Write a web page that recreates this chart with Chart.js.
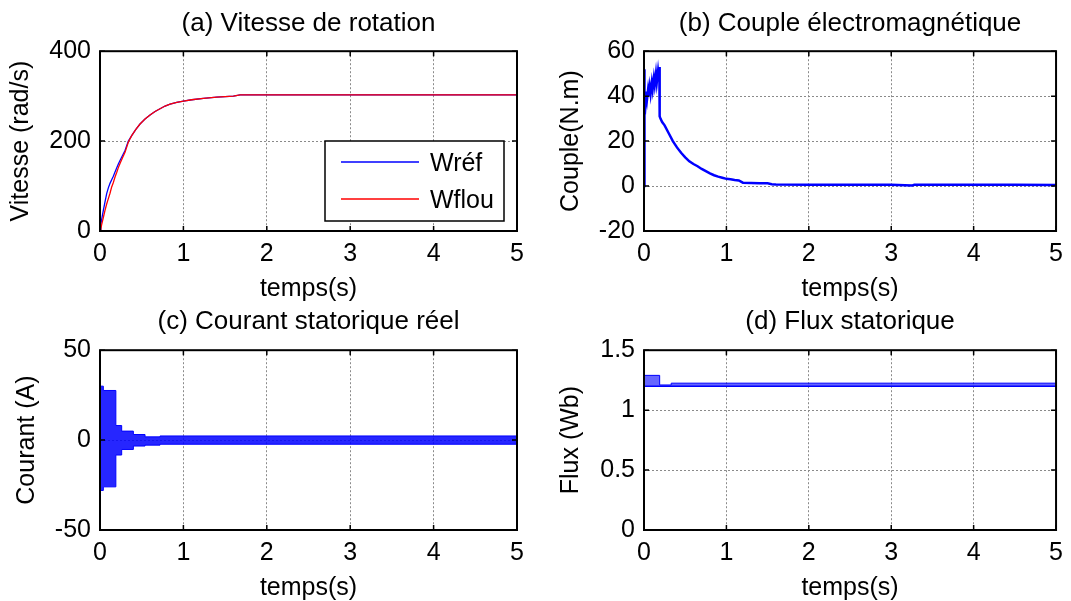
<!DOCTYPE html>
<html lang="fr">
<head>
<meta charset="utf-8">
<title>Commande floue — résultats de simulation</title>
<script src="https://cdn.jsdelivr.net/npm/chart.js@4.4.1/dist/chart.umd.min.js"></script>
<style>
  html, body { margin: 0; background: #fff; }
  #figure { position: relative; width: 1071px; height: 601px; overflow: hidden; }
  #figure canvas { position: absolute; }
</style>
</head>
<body>
<div id="figure">
  <canvas id="g-vitesse" width="540" height="302" style="left:0;top:0"></canvas>
  <canvas id="g-couple"  width="531" height="302" style="left:540px;top:0"></canvas>
  <canvas id="g-courant" width="540" height="301" style="left:0;top:300px"></canvas>
  <canvas id="g-flux"    width="531" height="301" style="left:540px;top:300px"></canvas>
</div>
<script>
// --- (a) vitesse de rotation (rad/s)
const tVitesse = [0, 0.01, 0.02, 0.04, 0.06, 0.08, 0.1, 0.12, 0.14, 0.16,
                  0.18, 0.2, 0.22, 0.24, 0.27, 0.3, 0.34, 0.38, 0.43, 0.48,
                  0.54, 0.6, 0.66, 0.72, 0.78, 0.84, 0.92, 1.0, 1.1, 1.24,
                  1.4, 1.6, 1.68, 5];
const wRef  = [0, 14, 26, 46, 65, 83, 96, 106, 114, 122,
               131, 140, 149, 157, 168, 179, 200, 212, 226, 238,
               249, 258, 266, 272, 278, 282, 286, 289, 292, 295,
               298, 300, 303, 303];
const wFlou = [0, 5, 14, 30, 46, 60, 72, 84, 98, 108,
               120, 130, 141, 150, 163, 175, 198, 212, 226, 238,
               249, 258, 266, 272, 278, 282, 286, 289, 292, 295,
               298, 300, 303, 303];

// --- (b) couple électromagnétique (N.m)
const tCouple = [0, 0.002, 0.004, 0.012, 0.02, 0.03, 0.038, 0.05, 0.06, 0.07,
                 0.08, 0.095, 0.105, 0.12, 0.13, 0.145, 0.155, 0.17, 0.178, 0.186,
                 0.19, 0.2, 0.22, 0.25, 0.3, 0.35, 0.4, 0.45, 0.5, 0.55,
                 0.6, 0.65, 0.7, 0.75, 0.8, 0.85, 0.9, 0.95, 1.0, 1.05,
                 1.1, 1.15, 1.2, 1.3, 1.4, 1.5, 1.55, 1.6, 2.0, 2.5,
                 3.0, 3.25, 3.28, 4.0, 4.5, 5];
const couple = [0, 52, 38, 41, 37, 42, 39, 43, 40, 44,
                41, 46, 43, 48, 45, 50, 46, 51, 48, 53,
                31, 30, 28.5, 27, 23.5, 20, 17.2, 14.8, 12.8, 11,
                9.8, 8.8, 7.6, 6.6, 5.6, 4.8, 4.2, 3.7, 3.2, 3.0,
                2.7, 2.5, 1.5, 1.4, 1.3, 1.2, 0.8, 0.7, 0.6, 0.6,
                0.6, 0.2, 0.6, 0.6, 0.6, 0.5];

// --- (c) courant statorique : enveloppe haute / basse (A)
const tCourant    = [0, 0.001, 0.04, 0.19, 0.26, 0.4, 0.54, 0.72, 5];
const courantHaut = [0, 30, 27.6, 8.1, 5, 3.1, 1.8, 2.3, 2.3];
const courantBas  = [0, -28, -26, -8.3, -5.2, -3.3, -2.8, -2.3, -2.3];

// --- (d) flux statorique : enveloppe (Wb)
const tFlux    = [0, 0.001, 0.19, 0.33, 5];
const fluxHaut = [0, 1.29, 1.21, 1.225, 1.225];
const fluxBas  = [0, 1.2, 1.2, 1.2, 1.2];

const ticksTemps = [0, 1, 2, 3, 4, 5];

const POLICE = "'Liberation Sans', Arial, Helvetica, sans-serif";
Chart.defaults.font.family = POLICE;
Chart.defaults.font.size = 25;
Chart.defaults.color = '#000';

const pts = (xs, ys) => xs.map((x, i) => ({ x, y: ys[i] }));

// cadre noir + petites graduations rentrantes, façon Matlab
const cadreMatlab = {
  id: 'cadreMatlab',
  afterDatasetsDraw(chart) {
    const { ctx, chartArea: a, scales: { x, y } } = chart;
    ctx.save();
    ctx.strokeStyle = '#000';
    ctx.lineWidth = 1.5;
    ctx.beginPath();
    x.ticks.forEach(t => {
      const px = x.getPixelForValue(t.value);
      ctx.moveTo(px, a.bottom); ctx.lineTo(px, a.bottom - 5);
      ctx.moveTo(px, a.top);    ctx.lineTo(px, a.top + 5);
    });
    y.ticks.forEach(t => {
      const py = y.getPixelForValue(t.value);
      ctx.moveTo(a.left, py);  ctx.lineTo(a.left + 5, py);
      ctx.moveTo(a.right, py); ctx.lineTo(a.right - 5, py);
    });
    ctx.stroke();
    ctx.lineWidth = 2;
    ctx.strokeRect(a.left, a.top, a.right - a.left, a.bottom - a.top);
    ctx.restore();
  }
};

// légende encadrée en bas à droite du graphe (a)
const legendeVitesse = {
  id: 'legendeVitesse',
  afterDraw(chart) {
    const { ctx, chartArea: a } = chart;
    const bx = a.right - 192, by = a.bottom - 90, bw = 179, bh = 80;
    ctx.save();
    ctx.fillStyle = '#fff';
    ctx.fillRect(bx, by, bw, bh);
    ctx.strokeStyle = '#000';
    ctx.lineWidth = 1.5;
    ctx.strokeRect(bx, by, bw, bh);
    ctx.font = '25px ' + POLICE;
    ctx.textBaseline = 'middle';
    ctx.textAlign = 'left';
    chart.data.datasets.forEach((ds, i) => {
      const ly = by + 21 + i * 37;
      ctx.strokeStyle = ds.borderColor;
      ctx.lineWidth = 1.3;
      ctx.beginPath();
      ctx.moveTo(bx + 16, ly);
      ctx.lineTo(bx + 94, ly);
      ctx.stroke();
      ctx.fillStyle = '#000';
      ctx.fillText(ds.label, bx + 105, ly + 2);
    });
    ctx.restore();
  }
};

function graphe(id, o) {
  const hautCanvas = document.getElementById(id).height;
  return new Chart(document.getElementById(id), {
    type: 'line',
    data: { datasets: o.datasets },
    options: {
      responsive: false,
      animation: false,
      events: [],
      layout: { padding: { left: 0, right: o.droite, top: 0, bottom: 0 } },
      elements: { point: { radius: 0 } },
      plugins: {
        legend: { display: false },
        tooltip: { enabled: false },
        title: {
          display: true,
          fullSize: false,
          text: o.titre,
          color: '#000',
          font: { size: 26, weight: 'normal' },
          padding: { top: o.padTitre[0], bottom: o.padTitre[1] },
        },
      },
      scales: {
        x: {
          type: 'linear',
          min: 0, max: 5,
          afterBuildTicks: s => { s.ticks = ticksTemps.map(v => ({ value: v })); },
          afterFit: s => { s.height = hautCanvas - o.basZone; },
          ticks: { padding: 8, font: { size: 25 }, color: '#000', callback: v => String(v) },
          grid: { color: '#8a8a8a', lineWidth: 1, drawTicks: false },
          border: { display: false, dash: [2, 2] },
          title: {
            display: true, text: 'temps(s)', color: '#000',
            font: { size: 25, lineHeight: 1 }, padding: { top: 0, bottom: 0 },
          },
        },
        y: {
          min: o.yMin, max: o.yMax,
          afterBuildTicks: s => { s.ticks = o.yTicks.map(v => ({ value: v })); },
          afterFit: s => { s.width = o.largeurY; },
          ticks: { padding: 9, font: { size: 25 }, color: '#000', callback: v => String(v) },
          grid: { color: '#8a8a8a', lineWidth: 1, drawTicks: false },
          border: { display: false, dash: [2, 2] },
          title: {
            display: true, text: o.titreY, color: '#000',
            font: { size: 25, lineHeight: 1.2 }, padding: { top: o.padTitreY, bottom: 0 },
          },
        },
      },
    },
    plugins: [cadreMatlab].concat(o.plugins || []),
  });
}

graphe('g-vitesse', {
  titre: '(a) Vitesse de rotation',
  padTitre: [8, 12],
  titreY: 'Vitesse (rad/s)', padTitreY: 6,
  largeurY: 100, droite: 23, basZone: 231,
  yMin: 0, yMax: 400, yTicks: [0, 200, 400],
  datasets: [
    { label: 'Wréf',  data: pts(tVitesse, wRef),  borderColor: '#0000ff', borderWidth: 1.3, order: 1 },
    { label: 'Wflou', data: pts(tVitesse, wFlou), borderColor: '#ff0000', borderWidth: 1.3, order: 0 },
  ],
  plugins: [legendeVitesse],
});

graphe('g-couple', {
  titre: '(b) Couple électromagnétique',
  padTitre: [8, 12],
  titreY: 'Couple(N.m)', padTitreY: 16,
  largeurY: 104, droite: 10, basZone: 231,
  yMin: -20, yMax: 60, yTicks: [-20, 0, 20, 40, 60],
  datasets: [
    { label: 'Ce', data: pts(tCouple, couple), borderColor: '#0000ff', borderWidth: 2.5 },
  ],
});

graphe('g-courant', {
  titre: '(c) Courant statorique réel',
  padTitre: [6, 13],
  titreY: 'Courant (A)', padTitreY: 12,
  largeurY: 100, droite: 23, basZone: 230,
  yMin: -50, yMax: 50, yTicks: [-50, 0, 50],
  datasets: [
    { label: 'isa max', data: pts(tCourant, courantHaut), borderColor: '#0000ff', borderWidth: 1, stepped: true, fill: false },
    { label: 'isa min', data: pts(tCourant, courantBas),  borderColor: '#0000ff', borderWidth: 1, stepped: true,
      fill: '-1', backgroundColor: 'rgba(0,0,255,0.85)' },
  ],
});

graphe('g-flux', {
  titre: '(d) Flux statorique',
  padTitre: [6, 13],
  titreY: 'Flux (Wb)', padTitreY: 16,
  largeurY: 104, droite: 10, basZone: 230,
  yMin: 0, yMax: 1.5, yTicks: [0, 0.5, 1, 1.5],
  datasets: [
    { label: 'phis max', data: pts(tFlux, fluxHaut), borderColor: '#0000ff', borderWidth: 1, stepped: true, fill: false },
    { label: 'phis min', data: pts(tFlux, fluxBas),  borderColor: '#0000ff', borderWidth: 1.5, stepped: true,
      fill: '-1', backgroundColor: 'rgba(0,0,255,0.6)' },
  ],
});
</script>
</body>
</html>
